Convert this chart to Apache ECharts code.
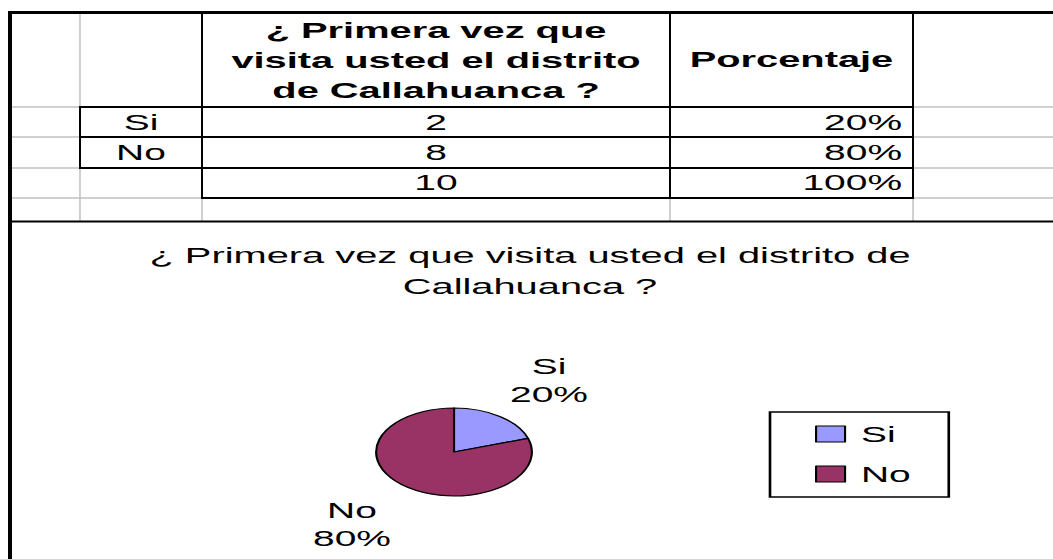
<!DOCTYPE html>
<html>
<head>
<meta charset="utf-8">
<title>¿ Primera vez que visita usted el distrito de Callahuanca ?</title>
<script src="https://cdn.jsdelivr.net/npm/echarts@6/dist/echarts.min.js"></script>
<style>
  html, body { margin: 0; padding: 0; background: #fff; overflow: hidden; }
  /* the sheet is drawn narrow and stretched sideways, which gives the wide glyphs and the oval pie */
  #chart { height: 559px; transform-origin: 0 0; }
</style>
</head>
<body>
<div id="chart"></div>
<script>
// ---- data ----
const categories = ['Si', 'No'];
const counts = [2, 8];
const headerQuestion = ['¿ Primera vez que', 'visita usted el distrito', 'de Callahuanca ?'];
const headerPercent = 'Porcentaje';
const chartTitle = ['¿ Primera vez que visita usted el distrito de', 'Callahuanca ?'];
const seriesColors = ['#9999FF', '#993366'];

// ---- derived values ----
const total = counts.reduce((a, b) => a + b, 0);
const percentText = counts.map(v => Math.round(v / total * 100) + '%').concat(['100%']);
const countText = counts.map(String).concat([String(total)]);

// ---- sheet geometry (screen px; x is divided by the stretch factor) ----
const S = 1.77;
const W = 1053 / S;
const ux = v => v / S;
const el = document.getElementById('chart');
el.style.width = W + 'px';
el.style.transform = 'scaleX(' + S + ')';

const FONT = '"Liberation Sans", Arial, sans-serif';
const GRAY = '#c0c0c0';
const BLACK = '#000';

const graphics = [];
function vline(x, y1, y2, w, color) {
  graphics.push({ type: 'rect', silent: true,
    shape: { x: ux(x) - ux(w) / 2, y: y1, width: ux(w), height: y2 - y1 },
    style: { fill: color } });
}
function hline(x1, x2, y, w, color) {
  graphics.push({ type: 'rect', silent: true,
    shape: { x: ux(x1), y: y - w / 2, width: ux(x2 - x1), height: w },
    style: { fill: color } });
}
function text(str, x, y, align, opts) {
  const o = opts || {};
  graphics.push({ type: 'text', silent: true, x: ux(x), y: y,
    style: { text: str, x: 0, y: 0,
      fontFamily: FONT, fontSize: o.size || 22, fontWeight: o.bold ? 'bold' : 'normal',
      lineHeight: o.lineHeight || 24,
      fill: '#000', align: align, textAlign: align,
      verticalAlign: 'middle', textVerticalAlign: 'middle' } });
}

// column edges and row edges of the sheet
const colX = [10, 80, 202, 670, 913];
const rowY = [12, 107, 137, 168, 198, 221];

// light sheet gridlines
[rowY[1], rowY[2], rowY[3], rowY[4]].forEach(y => hline(12, colX[1], y, 1.5, GRAY));
hline(colX[1], colX[2], rowY[4], 1.5, GRAY);
[rowY[1], rowY[2], rowY[3], rowY[4]].forEach(y => hline(colX[4], 1053, y, 1.5, GRAY));
vline(colX[1], rowY[0], rowY[1], 1.5, GRAY);
vline(colX[1], rowY[3], rowY[5], 1.5, GRAY);
[colX[2], colX[3], colX[4]].forEach(x => vline(x, rowY[4], rowY[5], 1.5, GRAY));

// table borders
[colX[2], colX[3], colX[4]].forEach(x => vline(x, rowY[0], rowY[4] + 1, 2, BLACK));
vline(colX[1], rowY[1], rowY[3] + 1, 2, BLACK);
[rowY[1], rowY[2], rowY[3]].forEach(y => hline(colX[1] - 1, colX[4] + 1, y, 2, BLACK));
hline(colX[2] - 1, colX[4] + 1, rowY[4], 2, BLACK);

// window frame and the chart area's top edge
hline(8, 1053, 12.5, 3, BLACK);
vline(10, 11, 559, 4, BLACK);
hline(10, 1053, 221.5, 2, BLACK);

// header cells
text(headerQuestion.join('\n'), (colX[2] + colX[3]) / 2, 60, 'center', { bold: true, size: 22.5, lineHeight: 30 });
text(headerPercent, (colX[3] + colX[4]) / 2, 59, 'center', { bold: true, size: 22.5 });

// body cells
const rowMid = [122, 152, 182];
categories.forEach((c, i) => text(c, (colX[1] + colX[2]) / 2, rowMid[i], 'center'));
countText.forEach((t, i) => text(t, (colX[2] + colX[3]) / 2, rowMid[i], 'center'));
percentText.forEach((t, i) => text(t, colX[4] - 11, rowMid[i], 'right'));

// pie label anchors
const labelPos = [[549, 380], [352, 524]];

const chart = echarts.init(el, null, { renderer: 'svg' });
chart.setOption({
  animation: false,
  backgroundColor: '#fff',
  title: {
    text: chartTitle.join('\n'),
    left: ux(530), top: 240, textAlign: 'center', padding: 0,
    textStyle: { fontFamily: FONT, fontSize: 22.5, fontWeight: 'normal', color: '#000', lineHeight: 31 }
  },
  legend: {
    orient: 'vertical',
    left: ux(770), top: 412,
    data: categories,
    icon: 'rect',
    itemWidth: ux(29), itemHeight: 16, itemGap: 18,
    padding: [11, ux(38), 12, ux(45)],
    borderColor: '#000', borderWidth: 1.5, borderRadius: 0,
    itemStyle: { borderColor: '#000', borderWidth: 1.2 },
    textStyle: { fontFamily: FONT, fontSize: 22, lineHeight: 22, color: '#000', padding: [0, 0, 0, 4] },
    selectedMode: false
  },
  graphic: { elements: graphics },
  series: [{
    type: 'pie',
    center: [ux(454), 452],
    radius: 44,
    startAngle: 90,
    clockwise: true,
    silent: true,
    color: seriesColors,
    itemStyle: { borderColor: '#000', borderWidth: 1.2 },
    label: {
      show: true, position: 'outside',
      formatter: '{b}\n{d}%',
      fontFamily: FONT, fontSize: 22, lineHeight: 28, color: '#000'
    },
    labelLine: { show: false },
    labelLayout: p => ({ x: ux(labelPos[p.dataIndex][0]), y: labelPos[p.dataIndex][1], align: 'center', verticalAlign: 'middle' }),
    emphasis: { disabled: true },
    data: categories.map((c, i) => ({ name: c, value: counts[i] }))
  }]
});
</script>
</body>
</html>
